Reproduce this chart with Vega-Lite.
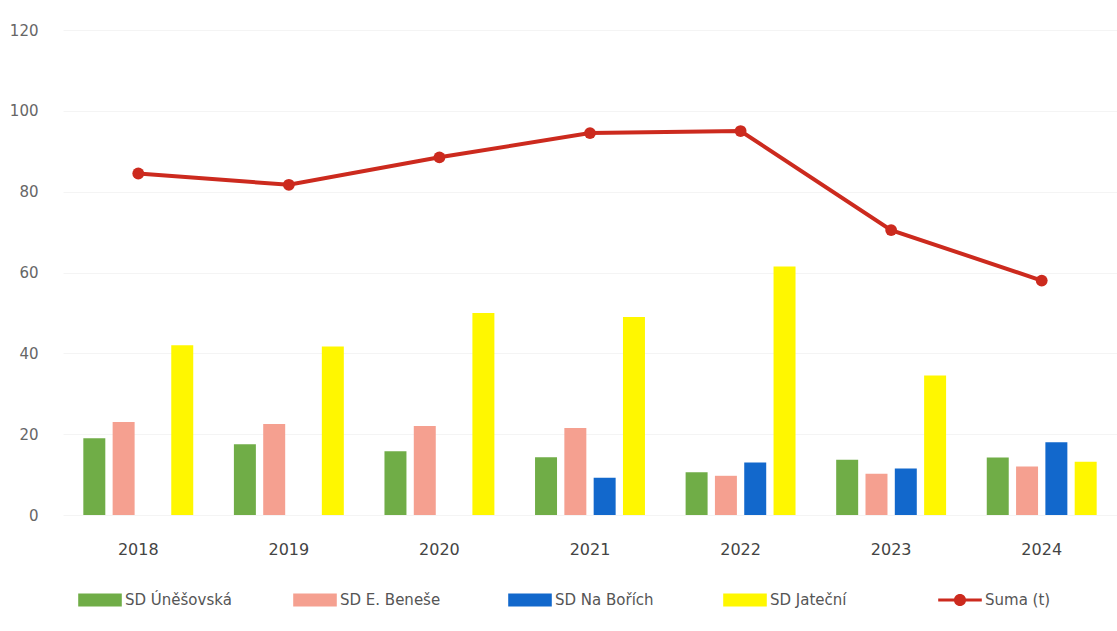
{
  "$schema": "https://vega.github.io/schema/vega-lite/v6.json",
  "autosize": {"type": "none"},
  "padding": {"left": 63, "top": 30, "right": 0, "bottom": 116},
  "width": 1054,
  "height": 485,
  "background": "white",
  "config": {
    "view": {"stroke": null},
    "font": "DejaVu Sans",
    "axis": {"labelFont": "DejaVu Sans", "labelColor": "#555555", "labelFontSize": 15}
  },
  "datasets": {
    "bars": [
      {"rok": "2018", "serie": "SD Úněšovská", "t": 19},
      {"rok": "2018", "serie": "SD E. Beneše", "t": 23},
      {"rok": "2018", "serie": "SD Jateční", "t": 42},
      {"rok": "2019", "serie": "SD Úněšovská", "t": 17.5},
      {"rok": "2019", "serie": "SD E. Beneše", "t": 22.5},
      {"rok": "2019", "serie": "SD Jateční", "t": 41.7},
      {"rok": "2020", "serie": "SD Úněšovská", "t": 15.8},
      {"rok": "2020", "serie": "SD E. Beneše", "t": 22},
      {"rok": "2020", "serie": "SD Jateční", "t": 50},
      {"rok": "2021", "serie": "SD Úněšovská", "t": 14.3},
      {"rok": "2021", "serie": "SD E. Beneše", "t": 21.5},
      {"rok": "2021", "serie": "SD Na Bořích", "t": 9.2},
      {"rok": "2021", "serie": "SD Jateční", "t": 49},
      {"rok": "2022", "serie": "SD Úněšovská", "t": 10.6},
      {"rok": "2022", "serie": "SD E. Beneše", "t": 9.7},
      {"rok": "2022", "serie": "SD Na Bořích", "t": 13},
      {"rok": "2022", "serie": "SD Jateční", "t": 61.5},
      {"rok": "2023", "serie": "SD Úněšovská", "t": 13.7},
      {"rok": "2023", "serie": "SD E. Beneše", "t": 10.2},
      {"rok": "2023", "serie": "SD Na Bořích", "t": 11.5},
      {"rok": "2023", "serie": "SD Jateční", "t": 34.5},
      {"rok": "2024", "serie": "SD Úněšovská", "t": 14.2},
      {"rok": "2024", "serie": "SD E. Beneše", "t": 12},
      {"rok": "2024", "serie": "SD Na Bořích", "t": 18},
      {"rok": "2024", "serie": "SD Jateční", "t": 13.2}
    ],
    "suma": [
      {"rok": "2018", "serie": "Suma (t)", "t": 84.5},
      {"rok": "2019", "serie": "Suma (t)", "t": 81.7},
      {"rok": "2020", "serie": "Suma (t)", "t": 88.5},
      {"rok": "2021", "serie": "Suma (t)", "t": 94.5},
      {"rok": "2022", "serie": "Suma (t)", "t": 95},
      {"rok": "2023", "serie": "Suma (t)", "t": 70.5},
      {"rok": "2024", "serie": "Suma (t)", "t": 58}
    ]
  },
  "encoding": {
    "x": {
      "field": "rok", "type": "nominal",
      "scale": {"paddingInner": 0.27, "paddingOuter": 0.135},
      "axis": {"title": null, "labelAngle": 0, "domain": false, "ticks": false, "labelPadding": 26, "labelFontSize": 16, "labelColor": "#444444"}
    },
    "y": {
      "field": "t", "type": "quantitative",
      "scale": {"domain": [0, 120]},
      "axis": {"title": null, "values": [0, 20, 40, 60, 80, 100, 120], "domain": false, "ticks": false, "labelPadding": 25, "grid": true, "gridColor": "#f4f4f4", "labelColor": "#666666"}
    },
    "color": {
      "field": "serie", "type": "nominal",
      "scale": {
        "domain": ["SD Úněšovská", "SD E. Beneše", "SD Na Bořích", "SD Jateční", "Suma (t)"],
        "range": ["#70AD47", "#F5A090", "#1268CC", "#FFF700", "#CC2A1E"]
      },
      "legend": {
        "title": null,
        "orient": "none",
        "legendX": 15,
        "legendY": 548,
        "direction": "horizontal",
        "columns": 5,
        "gridAlign": "all",
        "columnPadding": 61,
        "symbolSize": 1900,
        "symbolStrokeWidth": 0,
        "symbolOpacity": 1,
        "labelFontSize": 15,
        "labelColor": "#555555",
        "labelOffset": 3,
        "labelLimit": 200,
        "encode": {
          "symbols": {
            "update": {
              "shape": {"signal": "datum.value === 'Suma (t)' ? 'M-1,-0.07H1V0.07H-1Z M-0.28,0A0.28,0.28 0 1,1 0.28,0A0.28,0.28 0 1,1 -0.28,0Z' : 'M-1,-0.3H1V0.3H-1Z'"}
            }
          }
        }
      }
    }
  },
  "layer": [
    {
      "data": {"name": "bars"},
      "mark": {"type": "bar"},
      "encoding": {
        "xOffset": {
          "field": "serie", "type": "nominal",
          "scale": {"domain": ["SD Úněšovská", "SD E. Beneše", "SD Na Bořích", "SD Jateční"], "paddingInner": 0.25}
        }
      }
    },
    {
      "data": {"name": "suma"},
      "mark": {"type": "line", "strokeWidth": 4, "point": {"filled": true, "size": 140}}
    }
  ]
}
